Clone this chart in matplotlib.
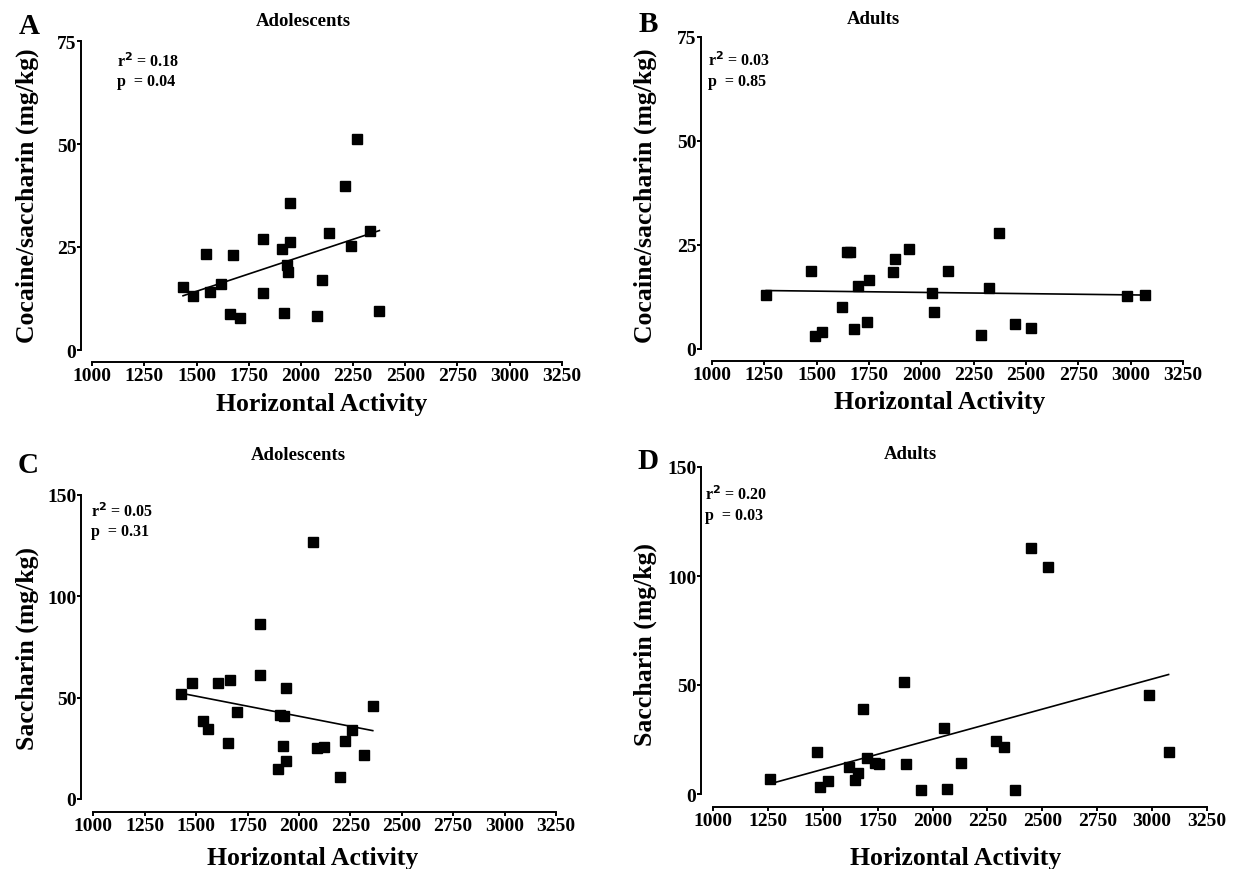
import numpy as np
import matplotlib
matplotlib.use("Agg")
import matplotlib.pyplot as plt

plt.rcParams['font.family'] = ['Liberation Serif', 'DejaVu Serif']
plt.rcParams['font.weight'] = 'bold'

# ---- data ----
adol_cocaine_x = [1435, 1485, 1543, 1565, 1616, 1661, 1673, 1706, 1818, 1819, 1908, 1921,
                  1934, 1939, 1947, 1950, 2079, 2102, 2134, 2213, 2239, 2271, 2331, 2376]
adol_cocaine_y = [15.2, 13.0, 23.3, 14.1, 16.0, 8.7, 23.0, 7.8, 27.0, 13.9, 24.4, 8.9,
                  20.6, 19.0, 26.1, 35.7, 8.2, 17.1, 28.3, 39.7, 25.2, 51.2, 28.9, 9.4]

adult_cocaine_x = [1259, 1474, 1490, 1525, 1620, 1645, 1658, 1679, 1698, 1742, 1752, 1867,
                   1876, 1943, 2049, 2062, 2126, 2287, 2324, 2372, 2447, 2525, 2982, 3067]
adult_cocaine_y = [13.1, 18.8, 3.2, 4.0, 10.2, 23.3, 23.4, 4.7, 15.1, 6.5, 16.6, 18.4,
                   21.6, 24.1, 13.4, 8.9, 18.7, 3.4, 14.6, 28.0, 6.1, 5.1, 12.8, 12.9]

adol_sacch_x = [1425, 1478, 1535, 1558, 1606, 1653, 1663, 1697, 1811, 1811, 1900, 1908,
                1924, 1929, 1935, 1939, 2067, 2089, 2124, 2200, 2224, 2260, 2316, 2359]
adol_sacch_y = [51.6, 57.3, 38.6, 34.7, 57.3, 27.4, 58.8, 43.0, 86.4, 61.0, 14.8, 41.4,
                26.3, 40.9, 18.7, 54.7, 127.0, 25.0, 25.5, 10.8, 28.6, 34.0, 21.7, 46.0]

adult_sacch_x = [1258, 1473, 1486, 1526, 1619, 1647, 1660, 1682, 1702, 1740, 1758, 1870,
                 1879, 1946, 2050, 2065, 2128, 2291, 2327, 2377, 2449, 2527, 2987, 3075]
adult_sacch_y = [6.9, 19.4, 3.2, 6.0, 12.2, 6.4, 9.5, 39.0, 16.4, 14.2, 13.6, 51.4,
                 13.8, 1.7, 30.2, 2.1, 14.4, 24.3, 21.6, 2.0, 112.7, 104.1, 45.2, 19.4]

x_ticks = [1000, 1250, 1500, 1750, 2000, 2250, 2500, 2750, 3000, 3250]
cocaine_yticks = [0, 25, 50, 75]
sacch_yticks = [0, 50, 100, 150]

titles = ["Adolescents", "Adults", "Adolescents", "Adults"]
letters = ["A", "B", "C", "D"]
ylabels = ["Cocaine/saccharin (mg/kg)", "Cocaine/saccharin (mg/kg)",
           "Saccharin (mg/kg)", "Saccharin (mg/kg)"]
stats = [("0.18", "0.04"), ("0.03", "0.85"), ("0.05", "0.31"), ("0.20", "0.03")]

# ---- layout (pixels) ----
W, H = 1236, 870
fig = plt.figure(figsize=(W / 100, H / 100), dpi=100)
fig.patch.set_facecolor('white')

def fx(px):
    return px / W

def fy(py):
    return 1 - py / H

# (x at 1000, x at 3250, y at top tick, y at 0, yaxis x, xaxis y)
boxes = [
    (92.3, 561.7, 42, 351, 81, 363),
    (712, 1183, 38, 350, 701, 362),
    (93.3, 556, 496, 800, 81, 813),
    (713, 1207, 468, 795, 701, 808),
]
title_pos = [(303, 22), (873, 19), (298, 456), (910, 455)]
letter_pos = [(29, 26), (648, 24), (28, 466), (648, 462)]
ylabel_pos = [(27, 196), (645, 196), (27, 648), (645, 645)]
xlabel_pos = [(322, 405), (940, 403), (313, 859), (956, 859)]
stat_pos = [(117, 62), (708, 61), (91, 512), (705, 495)]

datasets = [
    (adol_cocaine_x, adol_cocaine_y, cocaine_yticks),
    (adult_cocaine_x, adult_cocaine_y, cocaine_yticks),
    (adol_sacch_x, adol_sacch_y, sacch_yticks),
    (adult_sacch_x, adult_sacch_y, sacch_yticks),
]

px_per_pt = 100 / 72

for i, ((xs, ys, yt), box) in enumerate(zip(datasets, boxes)):
    x0, x1, yt_px, y0_px, yax, xax = box
    ax = fig.add_axes([fx(x0), fy(y0_px), (x1 - x0) / W, (y0_px - yt_px) / H])
    ax.set_xlim(x_ticks[0], x_ticks[-1])
    ax.set_ylim(yt[0], yt[-1])
    ax.patch.set_alpha(0)
    for s in ['top', 'right']:
        ax.spines[s].set_visible(False)
    ax.spines['left'].set_position(('outward', (x0 - yax) / px_per_pt))
    ax.spines['bottom'].set_position(('outward', (xax - y0_px) / px_per_pt))
    for s in ['left', 'bottom']:
        ax.spines[s].set_linewidth(1.4)
    ax.set_xticks(x_ticks)
    ax.set_yticks(yt)
    ax.tick_params(axis='both', direction='out', length=2.6, width=1.4,
                   labelsize=14, pad=0.8)
    for lab in ax.get_xticklabels() + ax.get_yticklabels():
        lab.set_fontweight('bold')

    xa = np.array(xs, dtype=float)
    ya = np.array(ys, dtype=float)
    m, b = np.polyfit(xa, ya, 1)
    xl = np.array([xa.min(), xa.max()])
    ax.plot(xl, m * xl + b, color='black', lw=1.2, clip_on=False)
    ax.plot(xa, ya, linestyle='none', marker='s', ms=6.6, color='black',
            clip_on=False)

    tx, ty = title_pos[i]
    fig.text(fx(tx), fy(ty), titles[i], ha='center', va='center',
             fontsize=13.5, fontweight='bold')
    lx, ly = letter_pos[i]
    fig.text(fx(lx), fy(ly), letters[i], ha='center', va='center',
             fontsize=21, fontweight='bold')
    yx, yy = ylabel_pos[i]
    fig.text(fx(yx), fy(yy), ylabels[i], ha='center', va='center',
             rotation=90, fontsize=18.5, fontweight='bold')
    xx, xy = xlabel_pos[i]
    fig.text(fx(xx), fy(xy), "Horizontal Activity", ha='center', va='center',
             fontsize=18.5, fontweight='bold')
    sx, sy = stat_pos[i]
    r2, p = stats[i]
    fig.text(fx(sx), fy(sy), r"r$^{\mathbf{2}}$ = " + r2, ha='left', va='center',
             fontsize=11.5, fontweight='bold')
    fig.text(fx(sx), fy(sy + 20.5), "p  = " + p, ha='left', va='center',
             fontsize=11.5, fontweight='bold')

fig.savefig("out.png", dpi=100, facecolor='white')
